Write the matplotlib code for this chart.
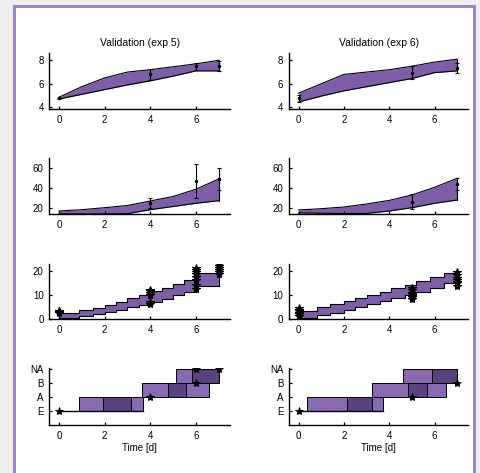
import numpy as np
import matplotlib
matplotlib.use("Agg")
import matplotlib.pyplot as plt
from matplotlib.patches import Rectangle

plt.rcParams['font.family'] = ['Liberation Sans', 'DejaVu Sans']
plt.rcParams['font.size'] = 7

# ---------------- data ----------------
titles = ["Validation (exp 5)", "Validation (exp 6)"]
xticks = [0, 2, 4, 6]
band_x = [0, 1, 2, 3, 4, 5, 6, 7]

# row 1
r1_upper_5 = [4.85, 5.75, 6.5, 7.0, 7.2, 7.45, 7.7, 8.0]
r1_lower_5 = [4.7, 5.1, 5.5, 5.9, 6.25, 6.65, 7.1, 7.1]
r1_upper_6 = [5.2, 6.0, 6.8, 7.0, 7.2, 7.5, 7.85, 8.1]
r1_lower_6 = [4.45, 4.95, 5.4, 5.75, 6.1, 6.45, 6.95, 7.1]
r1_obs_t_5 = [0, 4, 6, 7]
r1_obs_m_5 = [4.77, 6.8, 7.5, 7.5]
r1_obs_e_5 = [0.05, 0.5, 0.3, 0.42]
r1_obs_t_6 = [0, 5, 7]
r1_obs_m_6 = [4.75, 6.95, 7.35]
r1_obs_e_6 = [0.27, 0.55, 0.45]

# row 2
r2_upper_5 = [17, 18.3, 20.3, 22.5, 27, 31.5, 38.7, 49]
r2_lower_5 = [14, 14, 14, 14.3, 18.3, 21.5, 24.7, 27.3]
r2_upper_6 = [18, 19.3, 21, 24, 27.6, 33, 40.7, 49.7]
r2_lower_6 = [15, 14.8, 14.5, 14.6, 17, 20.3, 24.7, 28]
r2_obs_t_5 = [4, 6, 7]
r2_obs_m_5 = [25, 47, 49]
r2_obs_e_5 = [5.3, 16.7, 11]
r2_obs_t_6 = [5, 7]
r2_obs_m_6 = [26.3, 44]
r2_obs_e_6 = [7.3, 5.9]

# row 3 (staircase bands)
r3_edges_5 = [0, 0.9, 1.5, 2.0, 2.5, 3.0, 3.5, 4.0, 4.5, 5.0, 5.5, 6.0, 7.0]
r3_upper_5 = [2.6, 3.8, 4.8, 6.0, 7.3, 8.7, 10.2, 11.7, 13.1, 14.6, 16.3, 19.0]
r3_lower_5 = [0.7, 1.5, 2.2, 3.0, 3.9, 4.9, 6.0, 7.2, 8.5, 9.9, 11.4, 13.8]
r3_edges_6 = [0, 0.8, 1.4, 2.0, 2.5, 3.0, 3.6, 4.1, 4.7, 5.2, 5.8, 6.4, 7.0]
r3_upper_6 = [3.6, 4.9, 6.2, 7.5, 8.8, 10.0, 11.3, 12.8, 14.3, 15.9, 17.6, 19.1]
r3_lower_6 = [0.4, 1.6, 2.8, 3.9, 5.0, 6.2, 7.5, 8.7, 10.0, 11.4, 13.0, 15.0]
r3_pts_t_5 = [0, 0, 0, 0, 4, 4, 4, 4, 4, 4, 6, 6, 6, 6, 6, 6, 6, 6, 7, 7, 7, 7, 7, 7]
r3_pts_v_5 = [2.5, 3.0, 3.3, 3.6, 6.5, 7.2, 10, 11, 11.6, 12.2, 12.5, 14, 16, 17.5, 18.5, 19.5, 20.3, 21,
              18.5, 19.5, 20.2, 21, 22, 23]
r3_pts_t_6 = [0, 0, 0, 0, 0, 0, 5, 5, 5, 5, 5, 5, 5, 7, 7, 7, 7, 7, 7, 7]
r3_pts_v_6 = [1.5, 2.2, 2.8, 3.4, 4.0, 4.6, 8.3, 9.0, 9.8, 10.4, 11.0, 12.0, 12.8,
              13.8, 14.8, 15.5, 16.2, 17.0, 18.3, 19.3]

# row 4 (categorical state)
state_labels = ["E", "A", "B", "NA"]
r4_regions_5 = [(0, [0.87, 1.94, 3.15, 3.70], ["L", "D", "L"]),
                (1, [3.66, 4.77, 5.57, 6.57], ["L", "D", "L"]),
                (2, [5.13, 5.83, 7.00], ["L", "D"])]
r4_regions_6 = [(0, [0.36, 2.13, 3.23, 3.71], ["L", "D", "L"]),
                (1, [3.23, 4.84, 5.68, 6.52], ["L", "D", "L"]),
                (2, [4.62, 5.90, 7.00], ["L", "D"])]
r4_obs_t_5 = [0, 4, 6, 6, 7]
r4_obs_s_5 = [0, 1, 2, 3, 3]
r4_obs_t_6 = [0, 5, 7]
r4_obs_s_6 = [0, 1, 2]

# ---------------- style ----------------
BAND = '#7e5ea8'
LIGHT = '#8969b1'
DARK = '#5a4280'
W, H = 481, 473

fig = plt.figure(figsize=(W / 100, H / 100), dpi=100)
fig.patch.set_facecolor('#efefef')
frame = Rectangle((14 / W, -0.05), (474 - 14) / W, 1 - 6 / H + 0.05,
                  transform=fig.transFigure, facecolor='white',
                  edgecolor='#9f86c6', lw=2.2, zorder=-10)
fig.patches.append(frame)

cols = [(49.3, 230.0), (289.0, 468.5)]
rows = [(53.3, 109.0), (158.3, 214.3), (264.0, 319.3), (368.3, 425.0)]


def make_ax(r, c):
    l, rr = cols[c]
    t, b = rows[r]
    ax = fig.add_axes([l / W, 1 - b / H, (rr - l) / W, (b - t) / H])
    ax.set_zorder(5)
    ax.set_facecolor('none')
    for s in ['top', 'right']:
        ax.spines[s].set_visible(False)
    for s in ['left', 'bottom']:
        ax.spines[s].set_linewidth(1.0)
    ax.tick_params(direction='in', length=2, width=0.9, labelsize=7, pad=4)
    ax.set_xlim(-0.42, 7.5)
    ax.set_xticks(xticks)
    return ax


def smooth_band(ax, up, lo, tt, mm, ee):
    ax.fill_between(band_x, lo, up, color=BAND, lw=0, zorder=1)
    ax.plot(band_x, up, color='black', lw=0.8, zorder=2)
    ax.plot(band_x, lo, color='black', lw=0.8, zorder=2)
    ax.plot([band_x[-1], band_x[-1]], [lo[-1], up[-1]], color='black', lw=0.8, zorder=2)
    ax.errorbar(tt, mm, yerr=ee, fmt='.', color='black', ms=3, lw=0.8,
                capsize=1.5, capthick=0.8, zorder=3)


def step_band(ax, edges, up, lo, pt, pv):
    upx = list(up) + [up[-1]]
    lox = list(lo) + [lo[-1]]
    ax.fill_between(edges, lox, upx, step='post', color=BAND, lw=0, zorder=1)
    ax.step(edges, upx, where='post', color='black', lw=0.8, zorder=2)
    ax.step(edges, lox, where='post', color='black', lw=0.8, zorder=2)
    ax.plot([edges[0], edges[0]], [lox[0], upx[0]], color='black', lw=0.8, zorder=2)
    ax.plot([edges[-1], edges[-1]], [lox[-1], upx[-1]], color='black', lw=0.8, zorder=2)
    ax.plot(pt, pv, '*', color='black', ms=6, mew=0.8, zorder=3)


def state_plot(ax, regions, ot, os_):
    first_end = regions[0][1][-1]
    ax.plot([0, first_end], [0, 0], color='black', lw=1.0, zorder=2)
    for lev, bnds, shades in regions:
        for i, sh in enumerate(shades):
            ax.bar(bnds[i], 1, width=bnds[i + 1] - bnds[i], bottom=lev, align='edge',
                   color=LIGHT if sh == 'L' else DARK, edgecolor='black', lw=0.7, zorder=1)
    ax.plot(ot, os_, '*', color='black', ms=6, mew=0.6, zorder=3)
    ax.set_ylim(-1, 3.05)
    ax.set_yticks(range(len(state_labels)))
    ax.set_yticklabels(state_labels)
    ax.set_xlabel("Time [d]", fontsize=7, labelpad=2)


# row 1
ax = make_ax(0, 0)
smooth_band(ax, r1_upper_5, r1_lower_5, r1_obs_t_5, r1_obs_m_5, r1_obs_e_5)
ax.set_ylim(3.85, 8.6); ax.set_yticks([4, 6, 8])
ax.set_title(titles[0], fontsize=7.5, pad=5)
ax = make_ax(0, 1)
smooth_band(ax, r1_upper_6, r1_lower_6, r1_obs_t_6, r1_obs_m_6, r1_obs_e_6)
ax.set_ylim(3.85, 8.6); ax.set_yticks([4, 6, 8])
ax.set_title(titles[1], fontsize=7.5, pad=5)

# row 2
ax = make_ax(1, 0)
smooth_band(ax, r2_upper_5, r2_lower_5, r2_obs_t_5, r2_obs_m_5, r2_obs_e_5)
ax.set_ylim(13.7, 69.7); ax.set_yticks([20, 40, 60])
ax = make_ax(1, 1)
smooth_band(ax, r2_upper_6, r2_lower_6, r2_obs_t_6, r2_obs_m_6, r2_obs_e_6)
ax.set_ylim(13.7, 69.7); ax.set_yticks([20, 40, 60])

# row 3
ax = make_ax(2, 0)
step_band(ax, r3_edges_5, r3_upper_5, r3_lower_5, r3_pts_t_5, r3_pts_v_5)
ax.set_ylim(0, 22.8); ax.set_yticks([0, 10, 20])
ax = make_ax(2, 1)
step_band(ax, r3_edges_6, r3_upper_6, r3_lower_6, r3_pts_t_6, r3_pts_v_6)
ax.set_ylim(0, 22.8); ax.set_yticks([0, 10, 20])

# row 4
ax = make_ax(3, 0)
state_plot(ax, r4_regions_5, r4_obs_t_5, r4_obs_s_5)
ax = make_ax(3, 1)
state_plot(ax, r4_regions_6, r4_obs_t_6, r4_obs_s_6)

fig.savefig("out.png", dpi=100, facecolor=fig.get_facecolor())
